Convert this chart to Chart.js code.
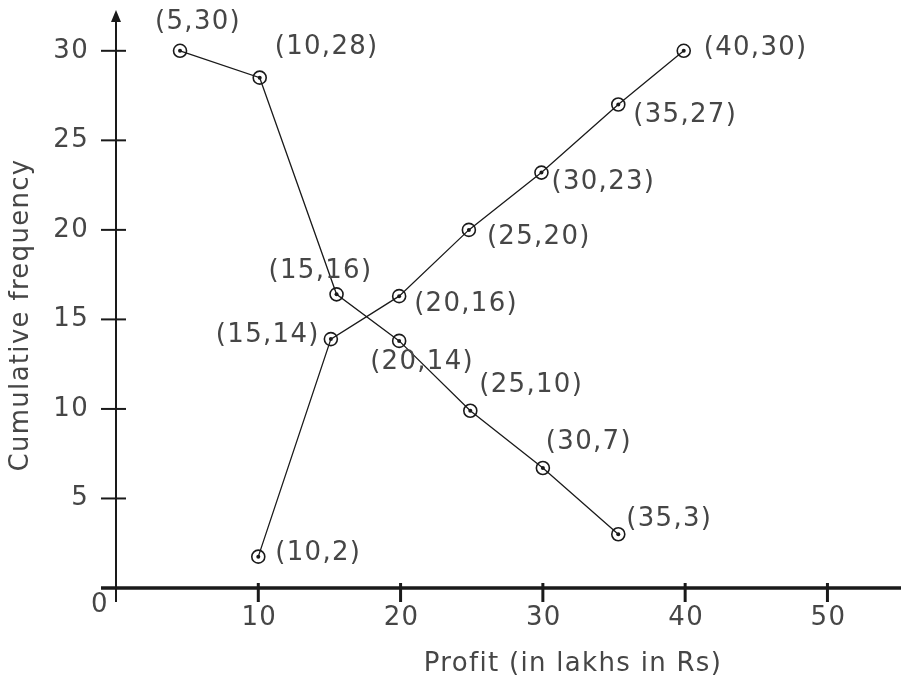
<!DOCTYPE html>
<html>
<head>
<meta charset="utf-8">
<script src="https://cdn.jsdelivr.net/npm/chart.js@4.4.1/dist/chart.umd.min.js"></script>
<style>
  body { margin: 0; background: #fff; }
  #wrap { width: 901px; height: 675px; }
</style>
</head>
<body>
<div id="wrap"><canvas id="ogive" width="901" height="675"></canvas></div>
<script>
// "more than" ogive (falling)
const moreX = [4.5, 10.1, 15.5, 19.9, 24.9, 30, 35.3];
const moreY = [30, 28.5, 16.4, 13.8, 9.9, 6.7, 3.0];
const moreLabels = ["(5,30)", "(10,28)", "(15,16)", "(20,14)", "(25,10)", "(30,7)", "(35,3)"];

// "less than" ogive (rising)
const lessX = [10, 15.1, 19.9, 24.8, 29.9, 35.3, 39.9];
const lessY = [1.75, 13.9, 16.3, 20, 23.2, 27, 30];
const lessLabels = ["(10,2)", "(15,14)", "(20,16)", "(25,20)", "(30,23)", "(35,27)", "(40,30)"];

const xTicks = [10, 20, 30, 40, 50];
const yTicks = [5, 10, 15, 20, 25, 30];

// label offsets from the point, in pixels (left aligned text)
const moreOffsets = [[-25, -29], [15, -30], [-68, -23], [-29, 21], [9, -25], [3, -26], [8, -15]];
const lessOffsets = [[17, -3], [-115, -4], [15, 8], [18, 7], [10, 10], [15, 11], [20, -3]];

const FONT = "26px 'DejaVu Sans', Verdana, sans-serif";
const TEXT = "#464646";
const INK = "#1a1a1a";

const toPoints = (xs, ys) => xs.map((x, i) => ({ x: x, y: ys[i] }));

const axesPlugin = {
  id: "axesPlugin",
  afterDatasetsDraw(chart) {
    const ctx = chart.ctx;
    const xs = chart.scales.x;
    const ys = chart.scales.y;
    const x0 = xs.getPixelForValue(0);
    const y0 = ys.getPixelForValue(0);

    ctx.save();
    // dots in the middle of each marker
    ctx.fillStyle = INK;
    chart.data.datasets.forEach((ds, di) => {
      chart.getDatasetMeta(di).data.forEach((pt) => {
        ctx.beginPath();
        ctx.arc(pt.x, pt.y, 2, 0, Math.PI * 2);
        ctx.fill();
      });
    });

    // y axis
    ctx.strokeStyle = INK;
    ctx.lineWidth = 2;
    ctx.beginPath();
    ctx.moveTo(x0, 20);
    ctx.lineTo(x0, y0 + 14);
    ctx.stroke();
    // arrow head
    ctx.beginPath();
    ctx.moveTo(x0, 10);
    ctx.lineTo(x0 - 5, 22);
    ctx.lineTo(x0 + 5, 22);
    ctx.closePath();
    ctx.fill();

    // x axis
    ctx.lineWidth = 3.5;
    ctx.beginPath();
    ctx.moveTo(x0 - 15, y0);
    ctx.lineTo(chart.width, y0);
    ctx.stroke();

    // y ticks
    ctx.lineWidth = 2;
    yTicks.forEach((v) => {
      const py = ys.getPixelForValue(v);
      ctx.beginPath();
      ctx.moveTo(x0 - 15, py);
      ctx.lineTo(x0 + 10, py);
      ctx.stroke();
    });
    // x ticks
    ctx.lineWidth = 3;
    xTicks.forEach((v) => {
      const px = xs.getPixelForValue(v);
      ctx.beginPath();
      ctx.moveTo(px, y0 - 5);
      ctx.lineTo(px, y0 + 14);
      ctx.stroke();
    });

    // tick labels
    ctx.font = FONT;
    ctx.letterSpacing = "1.3px";
    ctx.fillStyle = TEXT;
    ctx.textBaseline = "middle";
    ctx.textAlign = "right";
    yTicks.forEach((v) => {
      ctx.fillText(String(v), x0 - 27, ys.getPixelForValue(v));
    });
    ctx.textAlign = "center";
    xTicks.forEach((v) => {
      ctx.fillText(String(v), xs.getPixelForValue(v) + 1, y0 + 30);
    });
    ctx.fillText("0", x0 - 16, y0 + 17);

    // point labels
    ctx.textAlign = "left";
    const drawLabels = (meta, labels, offs) => {
      meta.data.forEach((pt, i) => {
        ctx.fillText(labels[i], pt.x + offs[i][0], pt.y + offs[i][1]);
      });
    };
    drawLabels(chart.getDatasetMeta(0), moreLabels, moreOffsets);
    drawLabels(chart.getDatasetMeta(1), lessLabels, lessOffsets);

    // axis titles
    ctx.textAlign = "center";
    ctx.fillText("Profit (in lakhs in Rs)", 573, 664);
    ctx.translate(21, 315);
    ctx.rotate(-Math.PI / 2);
    ctx.fillText("Cumulative frequency", 0, 0);
    ctx.restore();
  }
};

new Chart(document.getElementById("ogive"), {
  type: "scatter",
  data: {
    datasets: [
      {
        label: "More than",
        data: toPoints(moreX, moreY),
        showLine: true,
        borderColor: INK,
        borderWidth: 1.3,
        pointRadius: 6.5,
        pointBorderWidth: 1.6,
        pointBorderColor: INK,
        pointBackgroundColor: "rgba(255,255,255,0)"
      },
      {
        label: "Less than",
        data: toPoints(lessX, lessY),
        showLine: true,
        borderColor: INK,
        borderWidth: 1.3,
        pointRadius: 6.5,
        pointBorderWidth: 1.6,
        pointBorderColor: INK,
        pointBackgroundColor: "rgba(255,255,255,0)"
      }
    ]
  },
  plugins: [axesPlugin],
  options: {
    responsive: false,
    animation: false,
    layout: { padding: { left: 116, top: 15, right: 0, bottom: 87 } },
    plugins: { legend: { display: false }, tooltip: { enabled: false } },
    scales: {
      x: { type: "linear", min: 0, max: 54.6, display: false },
      y: { type: "linear", min: 0, max: 32, display: false }
    }
  }
});
</script>
</body>
</html>
